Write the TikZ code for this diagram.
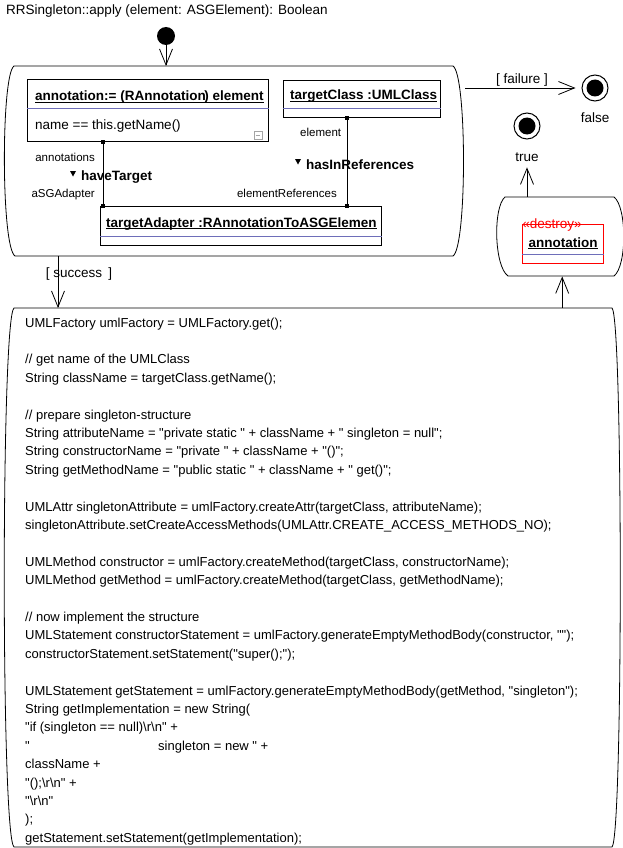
\documentclass[tikz,border=0pt]{standalone}
\usepackage{fontspec}
\setmainfont{Liberation Sans}[Ligatures=TeXOff]
\usetikzlibrary{arrows.meta,calc}
\definecolor{sepblue}{RGB}{110,110,185}
\definecolor{iconGray}{RGB}{165,165,165}
\begin{document}
\begin{tikzpicture}[x=1pt,y=-1pt,
  txt/.style={inner sep=0pt, font=\fontsize{13.5}{16}\selectfont},
  role/.style={inner sep=0pt, font=\fontsize{11.5}{14}\selectfont},
  objbox/.style={draw, line width=0.8pt, inner sep=0pt, anchor=north west},
  area/.style={inner sep=0pt, anchor=north west},
  sepline/.style={draw=sepblue, line width=0.8pt},
  outline/.style={line width=0.8pt},
  flow/.style={line width=0.8pt, -{Straight Barb[length=16pt,width=13pt]}},
  linkline/.style={line width=0.8pt},
  endsq/.style={fill, inner sep=0pt, minimum size=3.5pt},
  finalst/.style={circle, draw, line width=1pt, minimum size=26pt, inner sep=0pt},
  uline/.style={line width=0.8pt}
]
\useasboundingbox (0,0) rectangle (622,848);

% title
\node[txt, anchor=base west] (title) at (6,15) {RRSingleton::apply (element: ASGElement): Boolean};

% start state
\node[circle, fill, minimum size=18pt, inner sep=0pt] (start) at (166,36) {};

% story pattern activity
\node[area, minimum width=461pt, minimum height=190pt] (story) at (4,66) {};
\draw[outline] (14,66) -- (453,66) .. controls (467,75) and (467,247) .. (453,256)
  -- (15,256) .. controls (1,247) and (1,75) .. (14,66) -- cycle;

% object annotation
\node[objbox, minimum width=241pt, minimum height=62pt] (ann) at (27,79) {};
\node[txt, anchor=base west] (annT) at (35,101) {\textbf{annotation:= (RAnnotation\kern-1.5pt) element}};
\draw[uline] ([yshift=-1.3pt]annT.base west) -- ([yshift=-1.3pt]annT.base east);
\draw[sepline] ($(ann.north west)+(0,29)$) -- ($(ann.north east)+(0,29)$);
\node[txt, anchor=base west] (annA) at (35,130) {name == this.getName()};
\node[draw=iconGray, line width=0.7pt, minimum size=8pt, inner sep=0pt] (icon) at (258,135) {};
\draw[iconGray, line width=0.7pt] ([xshift=2pt]icon.west) -- ([xshift=-2pt]icon.east);

% object targetClass
\node[objbox, minimum width=157pt, minimum height=37pt] (tc) at (283,80) {};
\node[txt, anchor=base west] (tcT) at (290,100) {\textbf{targetClass :UMLClass}};
\draw[uline] ([yshift=-1.3pt]tcT.base west) -- ([yshift=-1.3pt]tcT.base east);
\draw[sepline] ($(tc.north west)+(0,28)$) -- ($(tc.north east)+(0,28)$);

% object targetAdapter
\node[objbox, minimum width=281pt, minimum height=39pt] (adp) at (100,206) {};
\node[txt, anchor=base west] (adpT) at (106,227) {\textbf{targetAdapter :RAnnotationToASGElemen}};
\draw[uline] ([yshift=-1.3pt]adpT.base west) -- ([yshift=-1.3pt]adpT.base east);
\draw[sepline] ($(adp.north west)+(0,30)$) -- ($(adp.north east)+(0,30)$);

% links
\coordinate (la) at ($(ann.south west)+(76,0)$);
\coordinate (lb) at ($(adp.north west)+(3,0)$);
\coordinate (ra) at ($(tc.south west)+(64,0)$);
\coordinate (rb) at ($(adp.north west)+(247,0)$);
\draw[linkline] (la) -- (lb);
\draw[linkline] (ra) -- (rb);
\foreach \p in {la,lb,ra,rb} \node[endsq] at (\p) {};

\node[role, anchor=base east] (r1) at (95,161) {annotations};
\node[role, anchor=base east] (r2) at (95,197) {aSGAdapter};
\node[role, anchor=base west] (r3) at (300,136) {element};
\node[role, anchor=base east] (r4) at (337,197) {elementReferences};
\fill (70,171) -- (76,171) -- (73,176.5) -- cycle;
\node[txt, anchor=base west] (haveT) at (81,180) {\textbf{haveTarget}};
\fill (295,159) -- (301,159) -- (298,164.5) -- cycle;
\node[txt, anchor=base west] (hasIn) at (306,169) {\textbf{hasInReferences}};

% final states
\node[finalst] (false) at (595,88) {};
\fill (false) circle (8.5pt);
\node[txt, anchor=base] (falseL) at (595,123) {false};
\node[finalst] (true) at (527,126) {};
\fill (true) circle (8.5pt);
\node[txt, anchor=base] (trueL) at (527,161) {true};

% destroy activity
\node[area, minimum width=124pt, minimum height=79pt] (destroy) at (500,197) {};
\draw[outline] (505,197) -- (614,197) .. controls (627,207) and (627,266) .. (614,276)
  -- (508,276) .. controls (494,266) and (493,207) .. (505,197) -- cycle;
\node[draw=red, line width=0.8pt, minimum width=81pt, minimum height=39pt, inner sep=0pt, anchor=north west] (dbox) at (522,224) {};
\node[txt, text=red, anchor=base] (dSt) at (552,228) {«destroy»};
\node[txt, anchor=base] (dT) at (563,247) {\textbf{annotation}};
\draw[uline] ([yshift=-1.3pt]dT.base west) -- ([yshift=-1.3pt]dT.base east);
\draw[sepline] ($(dbox.north west)+(0,30)$) -- ($(dbox.north east)+(0,30)$);

% code activity
\node[area, minimum width=616pt, minimum height=539pt] (code) at (4,308) {};
\draw[outline] (14,308) -- (612,308) .. controls (623,318) and (623,837) .. (612,847)
  -- (14,847) .. controls (1,837) and (1,318) .. (14,308) -- cycle;
\node[anchor=north west, inner sep=0pt, align=left, font=\fontsize{13}{18.4}\selectfont] (codeT) at (25,317.5) {%
UMLFactory umlFactory = UMLFactory.get();\\[18.4pt]
// get name of the UMLClass\\
String className = targetClass.getName();\\[18.4pt]
// prepare singleton-structure\\
String attributeName = "private static " + className + " singleton = null";\\
String constructorName = "private " + className + "()";\\
String getMethodName = "public static " + className + " get()";\\[18.4pt]
UMLAttr singletonAttribute = umlFactory.createAttr(targetClass, attributeName);\\
singletonAttribute.setCreateAccessMethods(UMLAttr.CREATE\_ACCESS\_METHODS\_NO);\\[18.4pt]
UMLMethod constructor = umlFactory.createMethod(targetClass, constructorName);\\
UMLMethod getMethod = umlFactory.createMethod(targetClass, getMethodName);\\[18.4pt]
// now implement the structure\\
UMLStatement constructorStatement = umlFactory.generateEmptyMethodBody(constructor, "");\\
constructorStatement.setStatement("super();");\\[18.4pt]
UMLStatement getStatement = umlFactory.generateEmptyMethodBody(getMethod, "singleton");\\
String getImplementation = new String(\\
"if (singleton == null)\textbackslash r\textbackslash n" +\\
\makebox[133pt][l]{"}singleton = new " +\\
className +\\
"();\textbackslash r\textbackslash n" +\\
"\textbackslash r\textbackslash n"\\
);\\
getStatement.setStatement(getImplementation);};

% transitions
\draw[flow] (start.south) -- (start.south |- story.north);
\draw[flow, shorten >=6pt] ($(story.north east)+(0,22)$) -- (false.west);
\node[txt] (failL) at (522,80) {[ failure ]};
\draw[flow] ($(story.south west)+(54,0)$) -- ($(code.north west)+(54,0)$);
\node[txt] (succL) at (79,274) {[ success \,]};
\draw[flow] (destroy.south |- code.north) -- (destroy.south);
\draw[flow, shorten >=6pt] (trueL.south |- destroy.north) -- (trueL.south);
\end{tikzpicture}
\end{document}
